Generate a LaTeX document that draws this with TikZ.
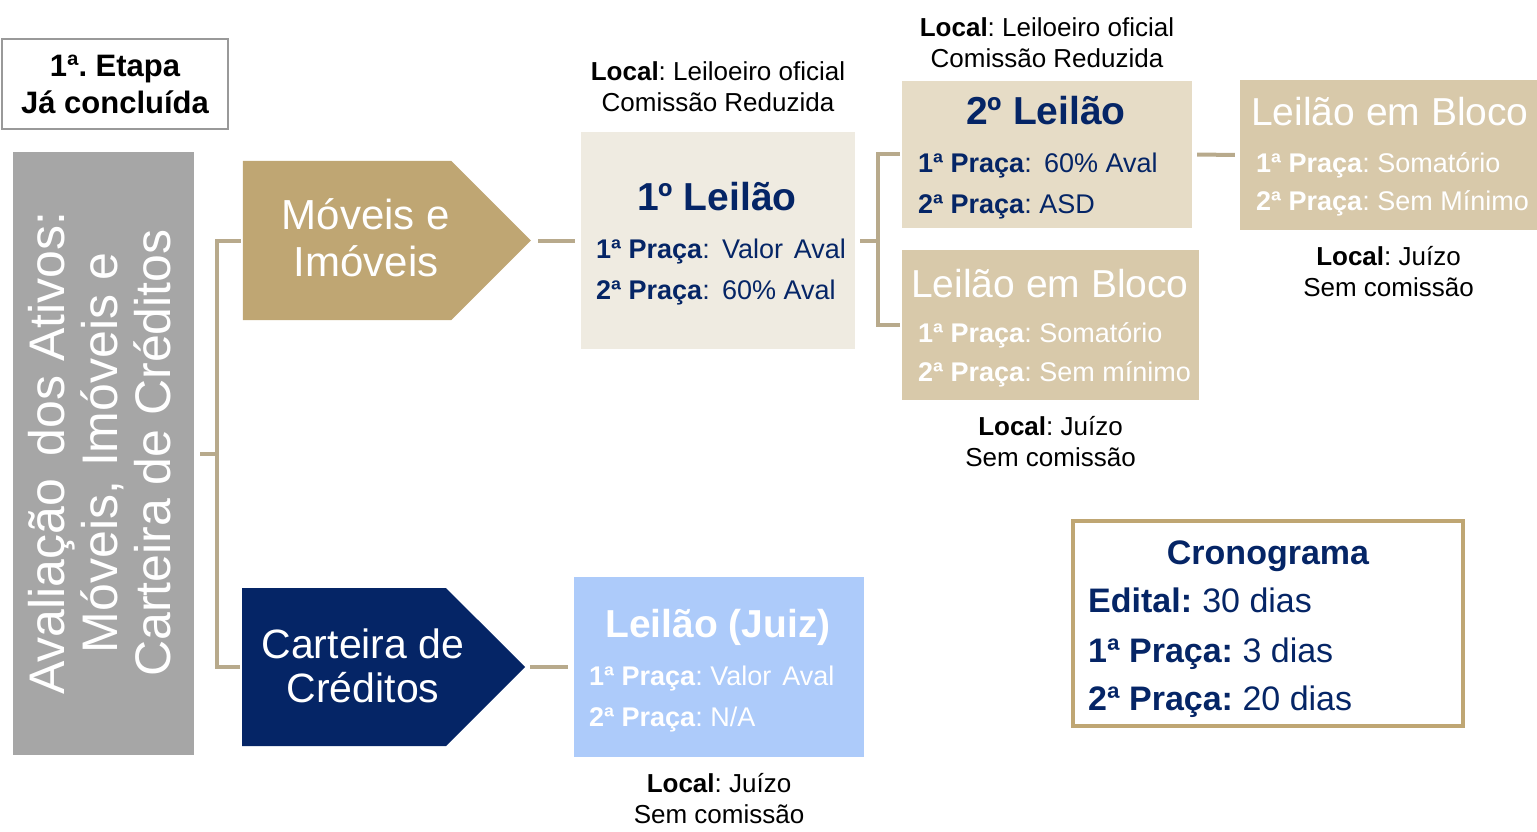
\documentclass[tikz,border=0pt]{standalone}
\usepackage{fontspec}
\setmainfont{Liberation Sans}
\usetikzlibrary{shapes.symbols, positioning}

\definecolor{navy}{RGB}{5,37,102}
\definecolor{gold}{RGB}{191,166,115}
\definecolor{linktan}{RGB}{184,170,140}
\definecolor{avalgray}{RGB}{166,166,166}
\definecolor{paleone}{RGB}{239,235,225}
\definecolor{paletwo}{RGB}{230,220,198}
\definecolor{blocotan}{RGB}{216,201,170}
\definecolor{juizblue}{RGB}{173,203,250}

\newcommand{\fsz}[2]{\fontsize{#1pt}{#2pt}\selectfont}

\tikzstyle{box} = [
    rectangle,
    inner sep=0pt
]
\tikzstyle{arrowbox} = [
    signal,
    signal to=east,
    signal pointer angle=90,
    inner sep=0pt
]
\tikzstyle{title} = [
    font=\fsz{39}{45}\bfseries,
    text=navy,
    anchor=base,
    inner sep=0pt
]
\tikzstyle{praca} = [
    font=\fsz{27}{32},
    text=navy,
    anchor=base west,
    inner sep=0pt
]
\tikzstyle{note} = [
    font=\fsz{26}{31},
    align=center,
    inner sep=0pt
]
\tikzstyle{link} = [
    line width=4pt,
    draw=linktan
]

\begin{document}
\frenchspacing
\begin{tikzpicture}[x=1pt, y=-1pt]

\useasboundingbox (0,0) rectangle (1537,832);

% etapa e avaliacao
\node (etapa) [box, draw=gray!80, line width=1.5pt, minimum width=226pt, minimum height=90pt,
    font=\fsz{31}{37}\bfseries, align=center] at (115,84) {1ª. Etapa\\Já concluída};
\node (aval) [box, fill=avalgray, minimum width=181pt, minimum height=603pt] at (103.5,453.5) {};
\node (avaltxt) [rotate=90, align=center, text=white, font=\fsz{50}{53}] at (100,453)
    {Avaliação\hspace{0.45em}dos Ativos:\\Móveis, Imóveis e\\Carteira de Créditos};

% setas
\node (moveis) [arrowbox, fill=gold, minimum width=288pt, minimum height=159pt] at (347,240.5) {};
\node (movtxt) [align=center, text=white, font=\fsz{42}{47}] at (366,238) {Móveis e\\Imóveis};
\node (carteira) [arrowbox, fill=navy, minimum width=283pt, minimum height=158pt] at (344,667) {};
\node (cartxt) [align=center, text=white, font=\fsz{41}{44}] at (363,666) {Carteira de\\Créditos};

% 1o leilao
\node (leilao1) [box, fill=paleone, minimum width=274pt, minimum height=217pt] at (718,240.5) {};
\node (t1) [title] at (717,211) {1º Leilão};
\node (p11) [praca] at (596,258) {\textbf{1ª Praça}:\hspace{0.45em}Valor\hspace{0.4em}Aval};
\node (p12) [praca] at (596,299) {\textbf{2ª Praça}:\hspace{0.45em}60\% Aval};
\node (n1) [note, above=20pt of leilao1] {\textbf{Local}: Leiloeiro oficial\\Comissão Reduzida};

% 2o leilao
\node (leilao2) [box, fill=paletwo, minimum width=290pt, minimum height=147pt] at (1047,154.5) {};
\node (t2) [title] at (1046,125) {2º Leilão};
\node (p21) [praca] at (918,172) {\textbf{1ª Praça}:\hspace{0.45em}60\% Aval};
\node (p22) [praca] at (918,213) {\textbf{2ª Praça}: ASD};
\node (n2) [note, above=13pt of leilao2] {\textbf{Local}: Leiloeiro oficial\\Comissão Reduzida};

% leilao em bloco (meio)
\node (bloco1) [box, fill=blocotan, minimum width=297pt, minimum height=150pt] at (1050.5,325) {};
\node (tb1) [title, font=\fsz{39}{45}, text=white] at (1050,297) {Leilão em Bloco};
\node (pb11) [praca, text=white] at (918,342) {\textbf{1ª Praça}: Somatório};
\node (pb12) [praca, text=white] at (918,381) {\textbf{2ª Praça}: Sem mínimo};
\node (n3) [note, below=16pt of bloco1] {\textbf{Local}: Juízo\\Sem comissão};

% leilao em bloco (direita)
\node (bloco2) [box, fill=blocotan, minimum width=297pt, minimum height=150pt] at (1388.5,155) {};
\node (tb2) [title, font=\fsz{39}{45}, text=white] at (1390,126) {Leilão em Bloco};
\node (pb21) [praca, text=white] at (1256,172) {\textbf{1ª Praça}: Somatório};
\node (pb22) [praca, text=white] at (1256,211) {\textbf{2ª Praça}: Sem Mínimo};
\node (n4) [note, below=16pt of bloco2] {\textbf{Local}: Juízo\\Sem comissão};

% leilao (juiz)
\node (juiz) [box, fill=juizblue, minimum width=290pt, minimum height=180pt] at (719,667) {};
\node (tj) [title, text=white] at (718,637) {Leilão (Juiz)};
\node (pj1) [praca, text=white] at (589,685) {\textbf{1ª Praça}: Valor\hspace{0.4em}Aval};
\node (pj2) [praca, text=white] at (589,726) {\textbf{2ª Praça}: N/A};
\node (n5) [note, below=16pt of juiz] {\textbf{Local}: Juízo\\Sem comissão};

% cronograma
\node (crono) [box, draw=gold, line width=4pt, fill=white, minimum width=390pt, minimum height=205pt] at (1268,623.5) {};
\node (tc) [title, font=\fsz{34}{40}\bfseries] at (1268,564) {Cronograma};
\node (c1) [praca, font=\fsz{34}{40}] at (1088,612) {\textbf{Edital:}\hspace{0.3em}30 dias};
\node (c2) [praca, font=\fsz{34}{40}] at (1088,662) {\textbf{1ª Praça:} 3 dias};
\node (c3) [praca, font=\fsz{34}{40}] at (1088,710) {\textbf{2ª Praça:} 20 dias};

% ligacoes
\draw[link] ([xshift=6pt]aval.east) -- ++(17,0) coordinate (fork1);
\draw[link] (fork1) |- ([xshift=-2pt]moveis.west);
\draw[link] (fork1) |- ([xshift=-2pt]carteira.west);
\draw[link, shorten <=7pt, shorten >=6pt] (moveis.east) -- (leilao1.west);
\draw[link] ([xshift=5pt]leilao1.east) -- ++(18,0) coordinate (fork2);
\draw[link] (fork2) |- ([xshift=-2pt]leilao2.west);
\draw[link] (fork2) |- ([xshift=-2pt]bloco1.west);
\draw[link, shorten <=5pt, shorten >=5pt] (leilao2.east) -- (bloco2.west);
\draw[link, shorten <=5pt, shorten >=6pt] (carteira.east) -- (juiz.west);

\end{tikzpicture}
\end{document}
